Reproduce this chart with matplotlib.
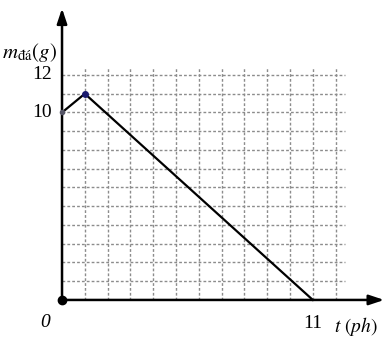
import numpy as np
import matplotlib
matplotlib.use("Agg")
import matplotlib.pyplot as plt

# do thi khoi luong da theo thoi gian
t_pts = [0, 1, 11]
m_pts = [10, 11, 0]
ytick_vals = [10, 12]
xtick_vals = [11]
grid_x = list(range(1, 13))
grid_y = list(range(1, 13))

plt.rcParams['mathtext.fontset'] = 'stix'
plt.rcParams['font.family'] = ['Liberation Serif', 'DejaVu Serif']

fig = plt.figure(figsize=(3.89, 3.44), dpi=100)
ax = fig.add_axes([0, 0, 1, 1])
ax.set_xlim(-2.72, 14.34)
ax.set_ylim(-2.35, 16.0)
ax.axis("off")

# luoi cham
for gx in grid_x:
    ax.plot([gx, gx], [0, 12.4], color="#8c8c8c", lw=1.0, ls=(0, (2, 1.5)), zorder=1)
for gy in grid_y:
    ax.plot([0, 12.4], [gy, gy], color="#8c8c8c", lw=1.0, ls=(0, (2, 1.5)), zorder=1)

# truc toa do
ax.annotate("", xy=(14.25, 0), xytext=(0, 0),
            arrowprops=dict(arrowstyle="-|>,head_length=0.9,head_width=0.3", color="black", lw=1.8))
ax.annotate("", xy=(0, 15.7), xytext=(0, 0),
            arrowprops=dict(arrowstyle="-|>,head_length=0.9,head_width=0.3", color="black", lw=1.8))

# duong do thi
ax.plot(t_pts, m_pts, color="black", lw=1.6, zorder=3)
ax.plot([t_pts[0]], [m_pts[0]], "o", color="#555566", ms=3, zorder=4)
ax.plot([t_pts[1]], [m_pts[1]], "o", color="#1a1a6e", ms=4, zorder=4)
ax.plot([0], [0], "o", color="black", ms=6, zorder=4)

for v in ytick_vals:
    ax.text(-0.45, v, str(v), ha="right", va="center", fontsize=14)
for v in xtick_vals:
    ax.text(v, -0.8, str(v), ha="center", va="top", fontsize=14)

ax.text(-0.75, -0.75, "0", ha="center", va="top", fontsize=14, style="italic")
ax.text(12.9, -0.8, "$t\\ (ph)$", ha="center", va="top", fontsize=14)
ax.text(-2.65, 13.2, "$m_{\\mathrm{đá}}(g)$", ha="left", va="center", fontsize=15)

fig.savefig("out.png", dpi=100)
